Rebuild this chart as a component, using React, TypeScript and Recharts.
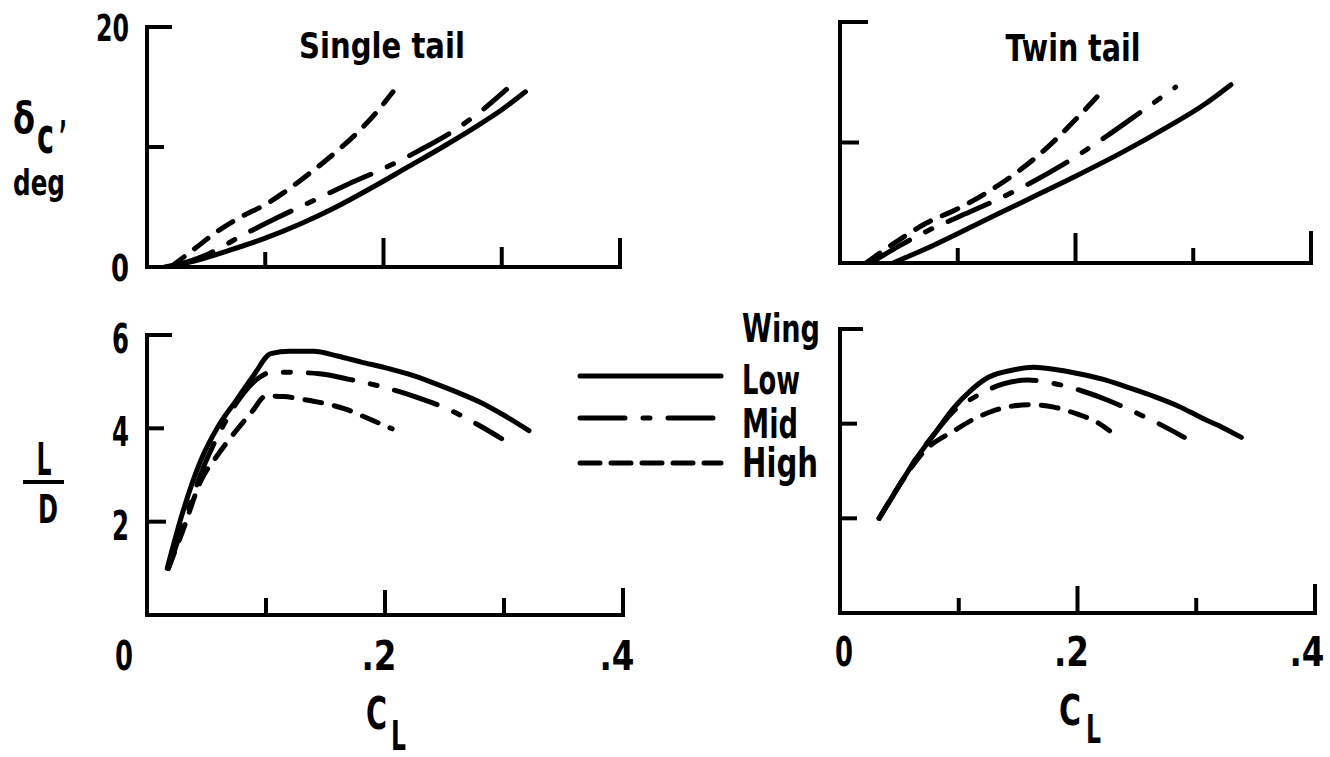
import React from 'react';
import { LineChart, Line, XAxis, YAxis } from 'recharts';

const FONT = "'DejaVu Sans', 'Liberation Sans', sans-serif";
const INK = '#000';

// wing positions, shared by all four panels and the key
const wingNames = ['Low', 'Mid', 'High'];
const wingDash = ['', '45 18 7 18', '17 13'];
const keyDash = ['', '45 18 7 18', '20 11'];

// single tail: control deflection (deg) vs lift coefficient
const sLowCL = [0.015, 0.04, 0.07, 0.1, 0.13, 0.16, 0.19, 0.22, 0.25, 0.28, 0.3, 0.32];
const sLowDelta = [0, 0.5, 1.4, 2.4, 3.6, 5.0, 6.6, 8.3, 10.0, 11.8, 13.1, 14.6];
const sMidCL = [0.02, 0.05, 0.08, 0.11, 0.14, 0.17, 0.2, 0.23, 0.26, 0.28, 0.304];
const sMidDelta = [0, 1.0, 2.6, 4.1, 5.5, 6.9, 8.2, 9.7, 11.4, 12.8, 14.8];
const sHighCL = [0.02, 0.04, 0.06, 0.08, 0.1, 0.12, 0.14, 0.16, 0.18, 0.195, 0.208];
const sHighDelta = [0, 1.5, 3.0, 4.2, 5.2, 6.5, 8.0, 9.6, 11.4, 13.0, 14.6];

// twin tail: control deflection (deg) vs lift coefficient
const tLowCL = [0.045, 0.08, 0.12, 0.16, 0.2, 0.24, 0.28, 0.31, 0.332];
const tLowDelta = [0, 1.5, 3.4, 5.3, 7.2, 9.2, 11.4, 13.2, 14.8];
const tMidCL = [0.026, 0.05, 0.073, 0.1, 0.13, 0.161, 0.19, 0.226, 0.255, 0.285];
const tMidDelta = [0, 1.4, 2.6, 3.8, 5.1, 6.6, 8.2, 10.5, 12.5, 14.6];
const tHighCL = [0.022, 0.05, 0.073, 0.1, 0.124, 0.15, 0.175, 0.2, 0.225];
const tHighDelta = [0, 1.9, 3.3, 4.5, 5.8, 7.5, 9.5, 11.9, 14.5];

// single tail: lift-drag ratio vs lift coefficient
const sLowLdCL = [0.017, 0.03, 0.045, 0.06, 0.075, 0.09, 0.104, 0.12, 0.14, 0.16, 0.18, 0.2, 0.22, 0.24, 0.26, 0.28, 0.3, 0.321];
const sLowLd = [1.0, 2.2, 3.3, 4.05, 4.6, 5.15, 5.6, 5.65, 5.65, 5.55, 5.42, 5.3, 5.16, 4.98, 4.78, 4.56, 4.28, 3.95];
const sMidLdCL = [0.018, 0.03, 0.048, 0.065, 0.081, 0.095, 0.104, 0.12, 0.145, 0.17, 0.196, 0.225, 0.253, 0.28, 0.298];
const sMidLd = [1.0, 1.9, 3.2, 4.1, 4.75, 5.1, 5.2, 5.2, 5.17, 5.05, 4.9, 4.68, 4.41, 4.05, 3.78];
const sHighLdCL = [0.018, 0.03, 0.045, 0.06, 0.074, 0.088, 0.1, 0.115, 0.131, 0.15, 0.167, 0.185, 0.206];
const sHighLd = [1.0, 1.8, 2.86, 3.45, 3.92, 4.35, 4.69, 4.68, 4.62, 4.53, 4.41, 4.22, 3.99];

// twin tail: lift-drag ratio vs lift coefficient
const tLowLdCL = [0.033, 0.05, 0.0625, 0.08, 0.096, 0.11, 0.125, 0.145, 0.163, 0.18, 0.2, 0.221, 0.24, 0.263, 0.285, 0.304, 0.322, 0.338];
const tLowLd = [2.0, 2.7, 3.2, 3.8, 4.34, 4.7, 4.98, 5.13, 5.19, 5.15, 5.06, 4.94, 4.79, 4.59, 4.37, 4.13, 3.92, 3.71];
const tMidLdCL = [0.033, 0.05, 0.065, 0.08, 0.095, 0.1125, 0.1375, 0.158, 0.18, 0.204, 0.225, 0.246, 0.27, 0.29];
const tMidLd = [2.0, 2.7, 3.3, 3.8, 4.25, 4.55, 4.84, 4.92, 4.85, 4.69, 4.5, 4.27, 3.98, 3.71];
const tHighLdCL = [0.033, 0.05, 0.071, 0.096, 0.113, 0.129, 0.145, 0.16, 0.18, 0.2, 0.215, 0.227];
const tHighLd = [2.0, 2.7, 3.42, 3.85, 4.1, 4.27, 4.37, 4.4, 4.35, 4.2, 4.05, 3.85];

// axis ticks
const clTicks = [0, 0.1, 0.2, 0.3, 0.4];
const clLabels = ['0', '', '.2', '', '.4'];
const deltaTicks = [0, 10, 20];
const deltaLabels = ['0', '', '20'];
const ldTicks = [2, 4, 6];
const ldLabels = ['2', '4', '6'];

type Pt = { x: number; y: number };
const toPoints = (xs: number[], ys: number[]): Pt[] => xs.map((x, i) => ({ x, y: ys[i] }));

// narrow lettering: glyphs are squeezed to a set width
type TProps = {
  x: number;
  y: number;
  w: number;
  size: number;
  anchor?: 'start' | 'middle' | 'end';
  children: React.ReactNode;
};
function T({ x, y, w, size, anchor = 'start', children }: TProps) {
  return (
    <text
      x={x}
      y={y}
      textAnchor={anchor}
      fontFamily={FONT}
      fontWeight="bold"
      fontSize={size}
      fill={INK}
      textLength={w}
      lengthAdjust="spacingAndGlyphs"
    >
      {children}
    </text>
  );
}

const ML = 70;
const MT = 20;
const MB = 80;

type PanelProps = {
  axisX: number;
  topY: number;
  plotW: number;
  plotH: number;
  yMax: number;
  yTicks: number[];
  yLabels: string[] | null;
  yLabelW: number[];
  yLens: number[];
  ySize: number;
  yDy: number;
  xLabels: string[] | null;
  xLens: number[];
  zeroDx: number;
  labelDx: number[];
  xDy: number;
  series: Pt[][];
};

function Panel(p: PanelProps) {
  const XTick = (props: any) => {
    const { x, y, index } = props;
    const len = p.xLens[index];
    const label = p.xLabels ? p.xLabels[index] : '';
    const dx = index === 0 ? p.zeroDx : p.labelDx[index];
    return (
      <g>
        {len > 0 && (
          <line x1={x} x2={x} y1={y} y2={y - len} stroke={INK} strokeWidth={4} strokeLinecap="square" />
        )}
        {label && (
          <T x={x + dx} y={y + p.xDy} w={label.length > 1 ? 35 : 18} size={41} anchor="middle">
            {label}
          </T>
        )}
      </g>
    );
  };
  const YTick = (props: any) => {
    const { x, y, index } = props;
    const len = p.yLens[index];
    const label = p.yLabels ? p.yLabels[index] : '';
    return (
      <g>
        {len > 0 && (
          <line x1={x} x2={x + len} y1={y} y2={y} stroke={INK} strokeWidth={4} strokeLinecap="square" />
        )}
        {label && (
          <T x={x - 18} y={y + p.yDy} w={p.yLabelW[index]} size={p.ySize} anchor="end">
            {label}
          </T>
        )}
      </g>
    );
  };
  return (
    <div style={{ position: 'absolute', left: p.axisX - ML, top: p.topY - MT }}>
      <LineChart
        width={p.plotW + ML + 30}
        height={p.plotH + MT + MB}
        margin={{ top: MT, left: 0, right: 30, bottom: 0 }}
      >
        <XAxis
          type="number"
          dataKey="x"
          domain={[0, 0.4]}
          ticks={clTicks}
          interval={0}
          height={MB}
          tickSize={0}
          tickMargin={0}
          tick={XTick}
          axisLine={{ stroke: INK, strokeWidth: 4, strokeLinecap: 'square' }}
          allowDataOverflow
        />
        <YAxis
          type="number"
          dataKey="y"
          domain={[0, p.yMax]}
          ticks={p.yTicks}
          interval={0}
          width={ML}
          tickSize={0}
          tickMargin={0}
          tick={YTick}
          axisLine={{ stroke: INK, strokeWidth: 4, strokeLinecap: 'square' }}
          allowDataOverflow
        />
        {p.series.map((pts, i) => (
          <Line
            key={wingNames[i]}
            data={pts}
            dataKey="y"
            name={wingNames[i]}
            type="monotone"
            stroke={INK}
            strokeWidth={5}
            strokeDasharray={wingDash[i] || undefined}
            strokeLinecap="round"
            strokeLinejoin="round"
            dot={false}
            activeDot={false}
            isAnimationActive={false}
          />
        ))}
      </LineChart>
    </div>
  );
}

export default function App() {
  const keyY = [376, 418, 463];
  const keyTextY = [394, 438, 477];
  const keyTextW = [58, 56, 76];
  return (
    <div style={{ position: 'absolute', left: 0, top: 0, width: 1330, height: 757, background: '#fff' }}>
      <Panel
        axisX={147}
        topY={27}
        plotW={473}
        plotH={240}
        yMax={20}
        yTicks={deltaTicks}
        yLabels={deltaLabels}
        yLabelW={[18, 0, 33]}
        yLens={[0, 15, 23]}
        ySize={38}
        yDy={14}
        xLabels={null}
        xLens={[0, 13, 27, 18, 27]}
        zeroDx={0}
        labelDx={[0, 0, 0, 0, 0]}
        xDy={0}
        series={[toPoints(sLowCL, sLowDelta), toPoints(sMidCL, sMidDelta), toPoints(sHighCL, sHighDelta)]}
      />
      <Panel
        axisX={840}
        topY={22}
        plotW={471}
        plotH={241}
        yMax={20}
        yTicks={deltaTicks}
        yLabels={null}
        yLabelW={[0, 0, 0]}
        yLens={[0, 17, 26]}
        ySize={38}
        yDy={14}
        xLabels={null}
        xLens={[0, 13, 28, 13, 30]}
        zeroDx={0}
        labelDx={[0, 0, 0, 0, 0]}
        xDy={0}
        series={[toPoints(tLowCL, tLowDelta), toPoints(tMidCL, tMidDelta), toPoints(tHighCL, tHighDelta)]}
      />
      <Panel
        axisX={147}
        topY={335}
        plotW={476}
        plotH={280}
        yMax={6}
        yTicks={ldTicks}
        yLabels={ldLabels}
        yLabelW={[17, 17, 17]}
        yLens={[17, 15, 23]}
        ySize={41}
        yDy={18}
        xLabels={clLabels}
        xLens={[0, 15, 23, 15, 25]}
        zeroDx={-23}
        labelDx={[0, 0, -6, 0, -6]}
        xDy={55}
        series={[toPoints(sLowLdCL, sLowLd), toPoints(sMidLdCL, sMidLd), toPoints(sHighLdCL, sHighLd)]}
      />
      <Panel
        axisX={840}
        topY={329}
        plotW={475}
        plotH={284}
        yMax={6}
        yTicks={ldTicks}
        yLabels={null}
        yLabelW={[0, 0, 0]}
        yLens={[15, 15, 21]}
        ySize={41}
        yDy={18}
        xLabels={clLabels}
        xLens={[0, 13, 25, 13, 27]}
        zeroDx={4}
        labelDx={[0, 0, -6, 0, -8]}
        xDy={53}
        series={[toPoints(tLowLdCL, tLowLd), toPoints(tMidLdCL, tMidLd), toPoints(tHighLdCL, tHighLd)]}
      />
      <svg
        width={1330}
        height={757}
        style={{ position: 'absolute', left: 0, top: 0, pointerEvents: 'none' }}
      >
        <T x={382} y={58} w={166} size={35} anchor="middle">
          Single tail
        </T>
        <T x={1073} y={61} w={135} size={37} anchor="middle">
          Twin tail
        </T>

        {/* deflection axis title */}
        <T x={13} y={133} w={22} size={42}>δ</T>
        <T x={37} y={153} w={17} size={50}>c</T>
        <T x={59} y={150} w={8} size={40}>’</T>
        <T x={13} y={195} w={52} size={36}>deg</T>

        {/* lift-drag axis title */}
        <T x={44} y={475} w={15} size={44} anchor="middle">L</T>
        <line x1={23} x2={64} y1={482} y2={482} stroke={INK} strokeWidth={4} />
        <T x={48} y={523} w={20} size={39} anchor="middle">D</T>

        {/* lift coefficient titles */}
        <T x={366} y={729} w={21} size={44}>C</T>
        <T x={391} y={750} w={15} size={40}>L</T>
        <T x={1059} y={725} w={22} size={42}>C</T>
        <T x={1086} y={743} w={15} size={39}>L</T>

        {/* wing position key */}
        <T x={742} y={342} w={78} size={39}>Wing</T>
        {wingNames.map((name, i) => (
          <g key={name}>
            <line
              x1={580}
              x2={721}
              y1={keyY[i]}
              y2={keyY[i]}
              stroke={INK}
              strokeWidth={5}
              strokeLinecap="round"
              strokeDasharray={keyDash[i] || undefined}
            />
            <T x={742} y={keyTextY[i]} w={keyTextW[i]} size={41}>
              {name}
            </T>
          </g>
        ))}
      </svg>
    </div>
  );
}
